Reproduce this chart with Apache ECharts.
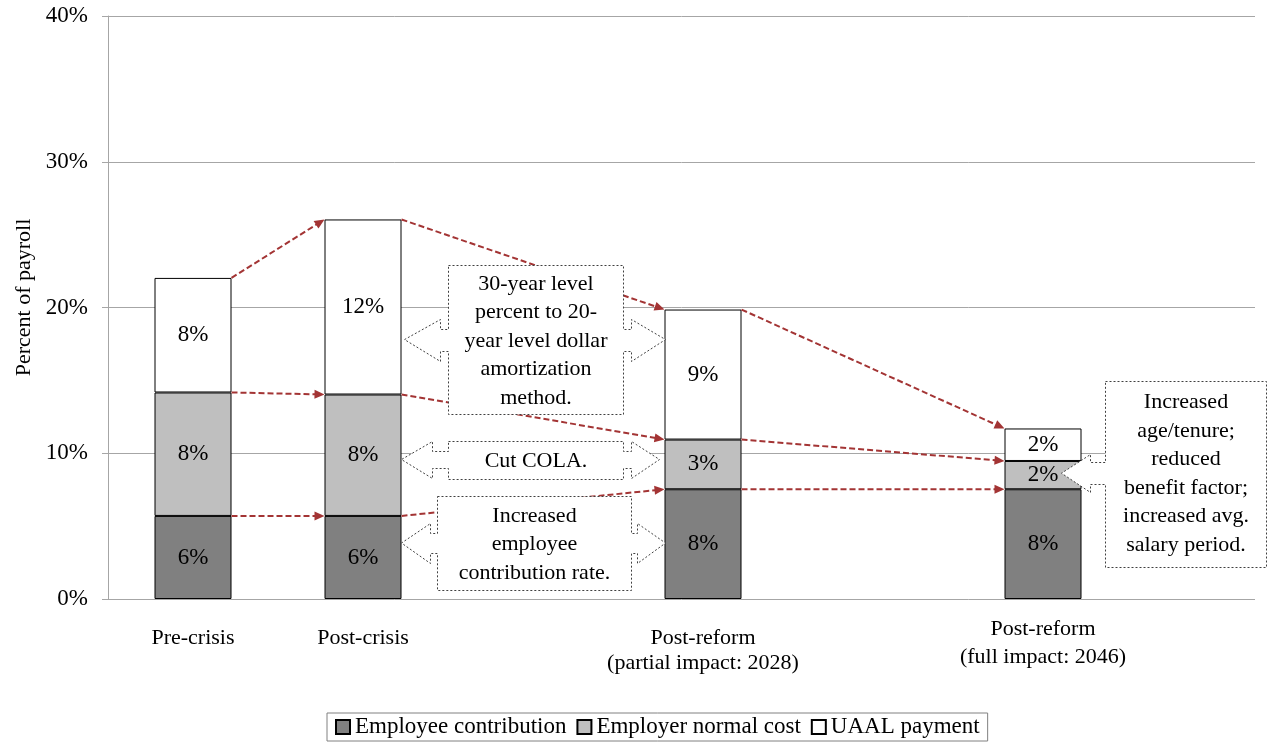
<!DOCTYPE html>
<html><head><meta charset="utf-8">
<script src="https://cdn.jsdelivr.net/npm/echarts@6/dist/echarts.min.js"></script>
<style>html,body{margin:0;padding:0;background:#fff}#main{width:1270px;height:744px}</style>
</head><body><div id="main"></div>
<script>
// ---------- data ----------
const categories = ['Pre-crisis', 'Post-crisis', 'Post-reform\n(partial impact: 2028)', 'Post-reform\n(full impact: 2046)'];
const categorySlots = [0, 1, 3, 5];      // slot index of each category on the horizontal axis
const slotCount = 7;
const employeeContribution = [5.70, 5.70, 7.53, 7.53];
const employerNormalCost = [8.47, 8.33, 3.41, 1.94];
const uaalPayment = [7.86, 12.01, 8.92, 2.23];
const yTicks = [0, 10, 20, 30, 40];
const seriesNames = ['Employee contribution', 'Employer normal cost', 'UAAL payment'];
const yAxisTitle = 'Percent of payroll';
const transitions = [[0, 1], [1, 2], [2, 3]];

// ---------- annotations (layout) ----------
const callouts = [
  {text: '30-year level\npercent to 20-\nyear level dollar\namortization\nmethod.', from: 1, to: 2,
   top: 22.9, bottom: 12.68, arrowAt: 17.8, box: [46, 42], base: [38, 34], tip: [3, -1], head: 21, shaft: 11},
  {text: 'Cut COLA.', from: 1, to: 2,
   top: 10.82, bottom: 8.26, arrowAt: 9.57, box: [46, 42], base: [30, 34], tip: [0, 5], head: 18.5, shaft: 8.5},
  {text: 'Increased\nemployee\ncontribution rate.', from: 1, to: 2,
   top: 7.07, bottom: 0.65, arrowAt: 3.84, box: [35, 34], base: [28, 28], tip: [0, -1], head: 20, shaft: 10}
];
const sideCallout = {text: 'Increased\nage/tenure;\nreduced\nbenefit factor;\nincreased avg.\nsalary period.', at: 3,
  top: 14.94, bottom: 2.17, arrowAt: 8.63, box: [23.5, 184.5], base: 8.5, tip: -20, head: 19, shaft: 11};

const FONT = '"Liberation Serif", "DejaVu Serif", serif';
const BAR_W = 77;
const ARROW_COLOR = '#a33434';
const GRID_LINE = '#a6a6a6';

function slotted(values) {
  const out = new Array(slotCount).fill('-');
  categorySlots.forEach((s, i) => { out[s] = values[i]; });
  return out;
}
const slotLabels = slotted(categories).map(v => v === '-' ? '' : v);

const chart = echarts.init(document.getElementById('main'), null, {renderer: 'canvas'});

function barSeries(name, values, color) {
  return {
    name: name, type: 'bar', stack: 'total', barWidth: BAR_W, xAxisIndex: 0, yAxisIndex: 0,
    data: slotted(values),
    itemStyle: {color: color, borderColor: '#000', borderWidth: 1},
    label: {show: true, position: 'inside', color: '#000', fontFamily: FONT, fontSize: 23,
      formatter: p => Math.round(p.value) + '%'}
  };
}

const yRange = {type: 'value', min: yTicks[0], max: yTicks[yTicks.length - 1], interval: yTicks[1] - yTicks[0]};

chart.setOption({
  animation: false,
  backgroundColor: '#fff',
  grid: [
    {left: 108, width: 170 * slotCount, top: 16, bottom: 145, outerBoundsMode: 'none', containLabel: false},   // bars
    {left: 108, right: 15, top: 16, bottom: 145, outerBoundsMode: 'none', containLabel: false}                 // visible value axis & grid lines
  ],
  xAxis: [
    {
      type: 'category', gridIndex: 0, data: slotLabels,
      axisLine: {show: false}, axisTick: {show: false}, splitLine: {show: false},
      axisLabel: {
        interval: 0, margin: 27, color: '#000', fontFamily: FONT, fontSize: 22, lineHeight: 25,
        formatter: function (v, idx) {
          if (idx === categorySlots[categorySlots.length - 1]) {
            const parts = v.split('\n');
            return '{a|' + parts[0] + '}\n{b|' + parts[1] + '}';
          }
          return v;
        },
        rich: {
          a: {fontFamily: FONT, fontSize: 22, lineHeight: 6, color: '#000'},
          b: {fontFamily: FONT, fontSize: 22, lineHeight: 51, color: '#000'}
        }
      }
    },
    {type: 'value', gridIndex: 1, min: 0, max: 1, show: false}
  ],
  yAxis: [
    Object.assign({gridIndex: 0, show: false, splitLine: {show: false}}, yRange),
    Object.assign({
      gridIndex: 1,
      name: yAxisTitle, nameLocation: 'middle', nameGap: 73,
      nameTextStyle: {fontFamily: FONT, fontSize: 22, color: '#000', padding: [0, 0, 0, 20]},
      axisLine: {show: true, onZero: false, lineStyle: {color: GRID_LINE, width: 1}},
      axisTick: {show: true, length: 6, lineStyle: {color: GRID_LINE}},
      axisLabel: {margin: 20, color: '#000', fontFamily: FONT, fontSize: 23, formatter: v => v + '%'},
      splitLine: {lineStyle: {color: GRID_LINE, width: 1}}
    }, yRange)
  ],
  legend: {
    data: seriesNames, left: 327, top: 713, icon: 'rect', itemWidth: 14, itemHeight: 14, itemGap: 10,
    padding: [2, 8], borderColor: '#808080', borderWidth: 1,
    textStyle: {fontFamily: FONT, fontSize: 23, color: '#000', lineHeight: 24}
  },
  series: [
    barSeries(seriesNames[0], employeeContribution, '#808080'),
    barSeries(seriesNames[1], employerNormalCost, '#bfbfbf'),
    barSeries(seriesNames[2], uaalPayment, '#ffffff')
  ]
});

// ---------- annotations built from the chart's own scales ----------
function px(slot, y) { return chart.convertToPixel({xAxisIndex: 0, yAxisIndex: 0}, [slot, y]); }
function xOf(i) { return px(categorySlots[i], 0)[0]; }
function yOf(v) { return px(0, v)[1]; }
function barLeft(i) { return xOf(i) - BAR_W / 2; }
function barRight(i) { return xOf(i) + BAR_W / 2; }
function r(v) { return Math.round(v) + 0.5; }

const levels = [[], [], []];
for (let i = 0; i < categories.length; i++) {
  levels[0][i] = employeeContribution[i];
  levels[1][i] = employeeContribution[i] + employerNormalCost[i];
  levels[2][i] = levels[1][i] + uaalPayment[i];
}

const graphics = [];
transitions.forEach(([a, b]) => {
  levels.forEach(lv => {
    const x0 = barRight(a), y0 = yOf(lv[a]);
    const x1 = barLeft(b), y1 = yOf(lv[b]);
    const dx = x1 - x0, dy = y1 - y0, len = Math.hypot(dx, dy);
    const ux = dx / len, uy = dy / len;
    const hl = 10, hw = 4.5;
    const bx = x1 - ux * hl, by = y1 - uy * hl;
    graphics.push({type: 'line', z: 10, silent: true,
      shape: {x1: x0, y1: y0, x2: bx + ux, y2: by + uy},
      style: {stroke: ARROW_COLOR, lineWidth: 2, lineDash: [6, 3]}});
    graphics.push({type: 'polygon', z: 10, silent: true,
      shape: {points: [[x1, y1], [bx - uy * hw, by + ux * hw], [bx + uy * hw, by - ux * hw]]},
      style: {fill: ARROW_COLOR}});
  });
});

const calloutStyle = {fill: '#fff', stroke: '#404040', lineWidth: 1, lineDash: [2, 2]};
function addText(text, cx, cy) {
  graphics.push({type: 'text', z: 21, silent: true, x: cx, y: cy,
    style: {text: text, font: '22px ' + FONT, fill: '#000', align: 'center', verticalAlign: 'middle', lineHeight: 28.5}});
}

callouts.forEach(c => {
  const bR = barRight(c.from), bL = barLeft(c.to);
  const x0 = r(bR + c.box[0]), x1 = r(bL - c.box[1]);
  const y0 = r(yOf(c.top)), y1 = r(yOf(c.bottom)), ay = yOf(c.arrowAt);
  const baseL = r(bR + c.base[0]), baseR = r(bL - c.base[1]);
  const tipL = bR + c.tip[0], tipR = bL - c.tip[1];
  const sT = r(ay - c.shaft), sB = r(ay + c.shaft), hT = r(ay - c.head), hB = r(ay + c.head);
  const pts = [[x0, y0], [x1, y0], [x1, sT], [baseR, sT], [baseR, hT], [tipR, ay], [baseR, hB], [baseR, sB],
    [x1, sB], [x1, y1], [x0, y1], [x0, sB], [baseL, sB], [baseL, hB], [tipL, ay], [baseL, hT], [baseL, sT], [x0, sT]];
  graphics.push({type: 'polygon', z: 20, silent: true, shape: {points: pts}, style: calloutStyle});
  addText(c.text, (x0 + x1) / 2, (y0 + y1) / 2 + 1);
});

(function () {
  const c = sideCallout, bR = barRight(c.at);
  const x0 = r(bR + c.box[0]), x1 = r(bR + c.box[1]);
  const y0 = r(yOf(c.top)), y1 = r(yOf(c.bottom)), ay = yOf(c.arrowAt);
  const baseL = r(bR + c.base), tipL = bR + c.tip;
  const sT = r(ay - c.shaft), sB = r(ay + c.shaft), hT = r(ay - c.head), hB = r(ay + c.head);
  const pts = [[x0, y0], [x1, y0], [x1, y1], [x0, y1], [x0, sB], [baseL, sB], [baseL, hB], [tipL, ay],
    [baseL, hT], [baseL, sT], [x0, sT]];
  graphics.push({type: 'polygon', z: 20, silent: true, shape: {points: pts}, style: calloutStyle});
  addText(c.text, (x0 + x1) / 2, (y0 + y1) / 2 - 1);
})();

chart.setOption({graphic: graphics});
</script></body></html>
